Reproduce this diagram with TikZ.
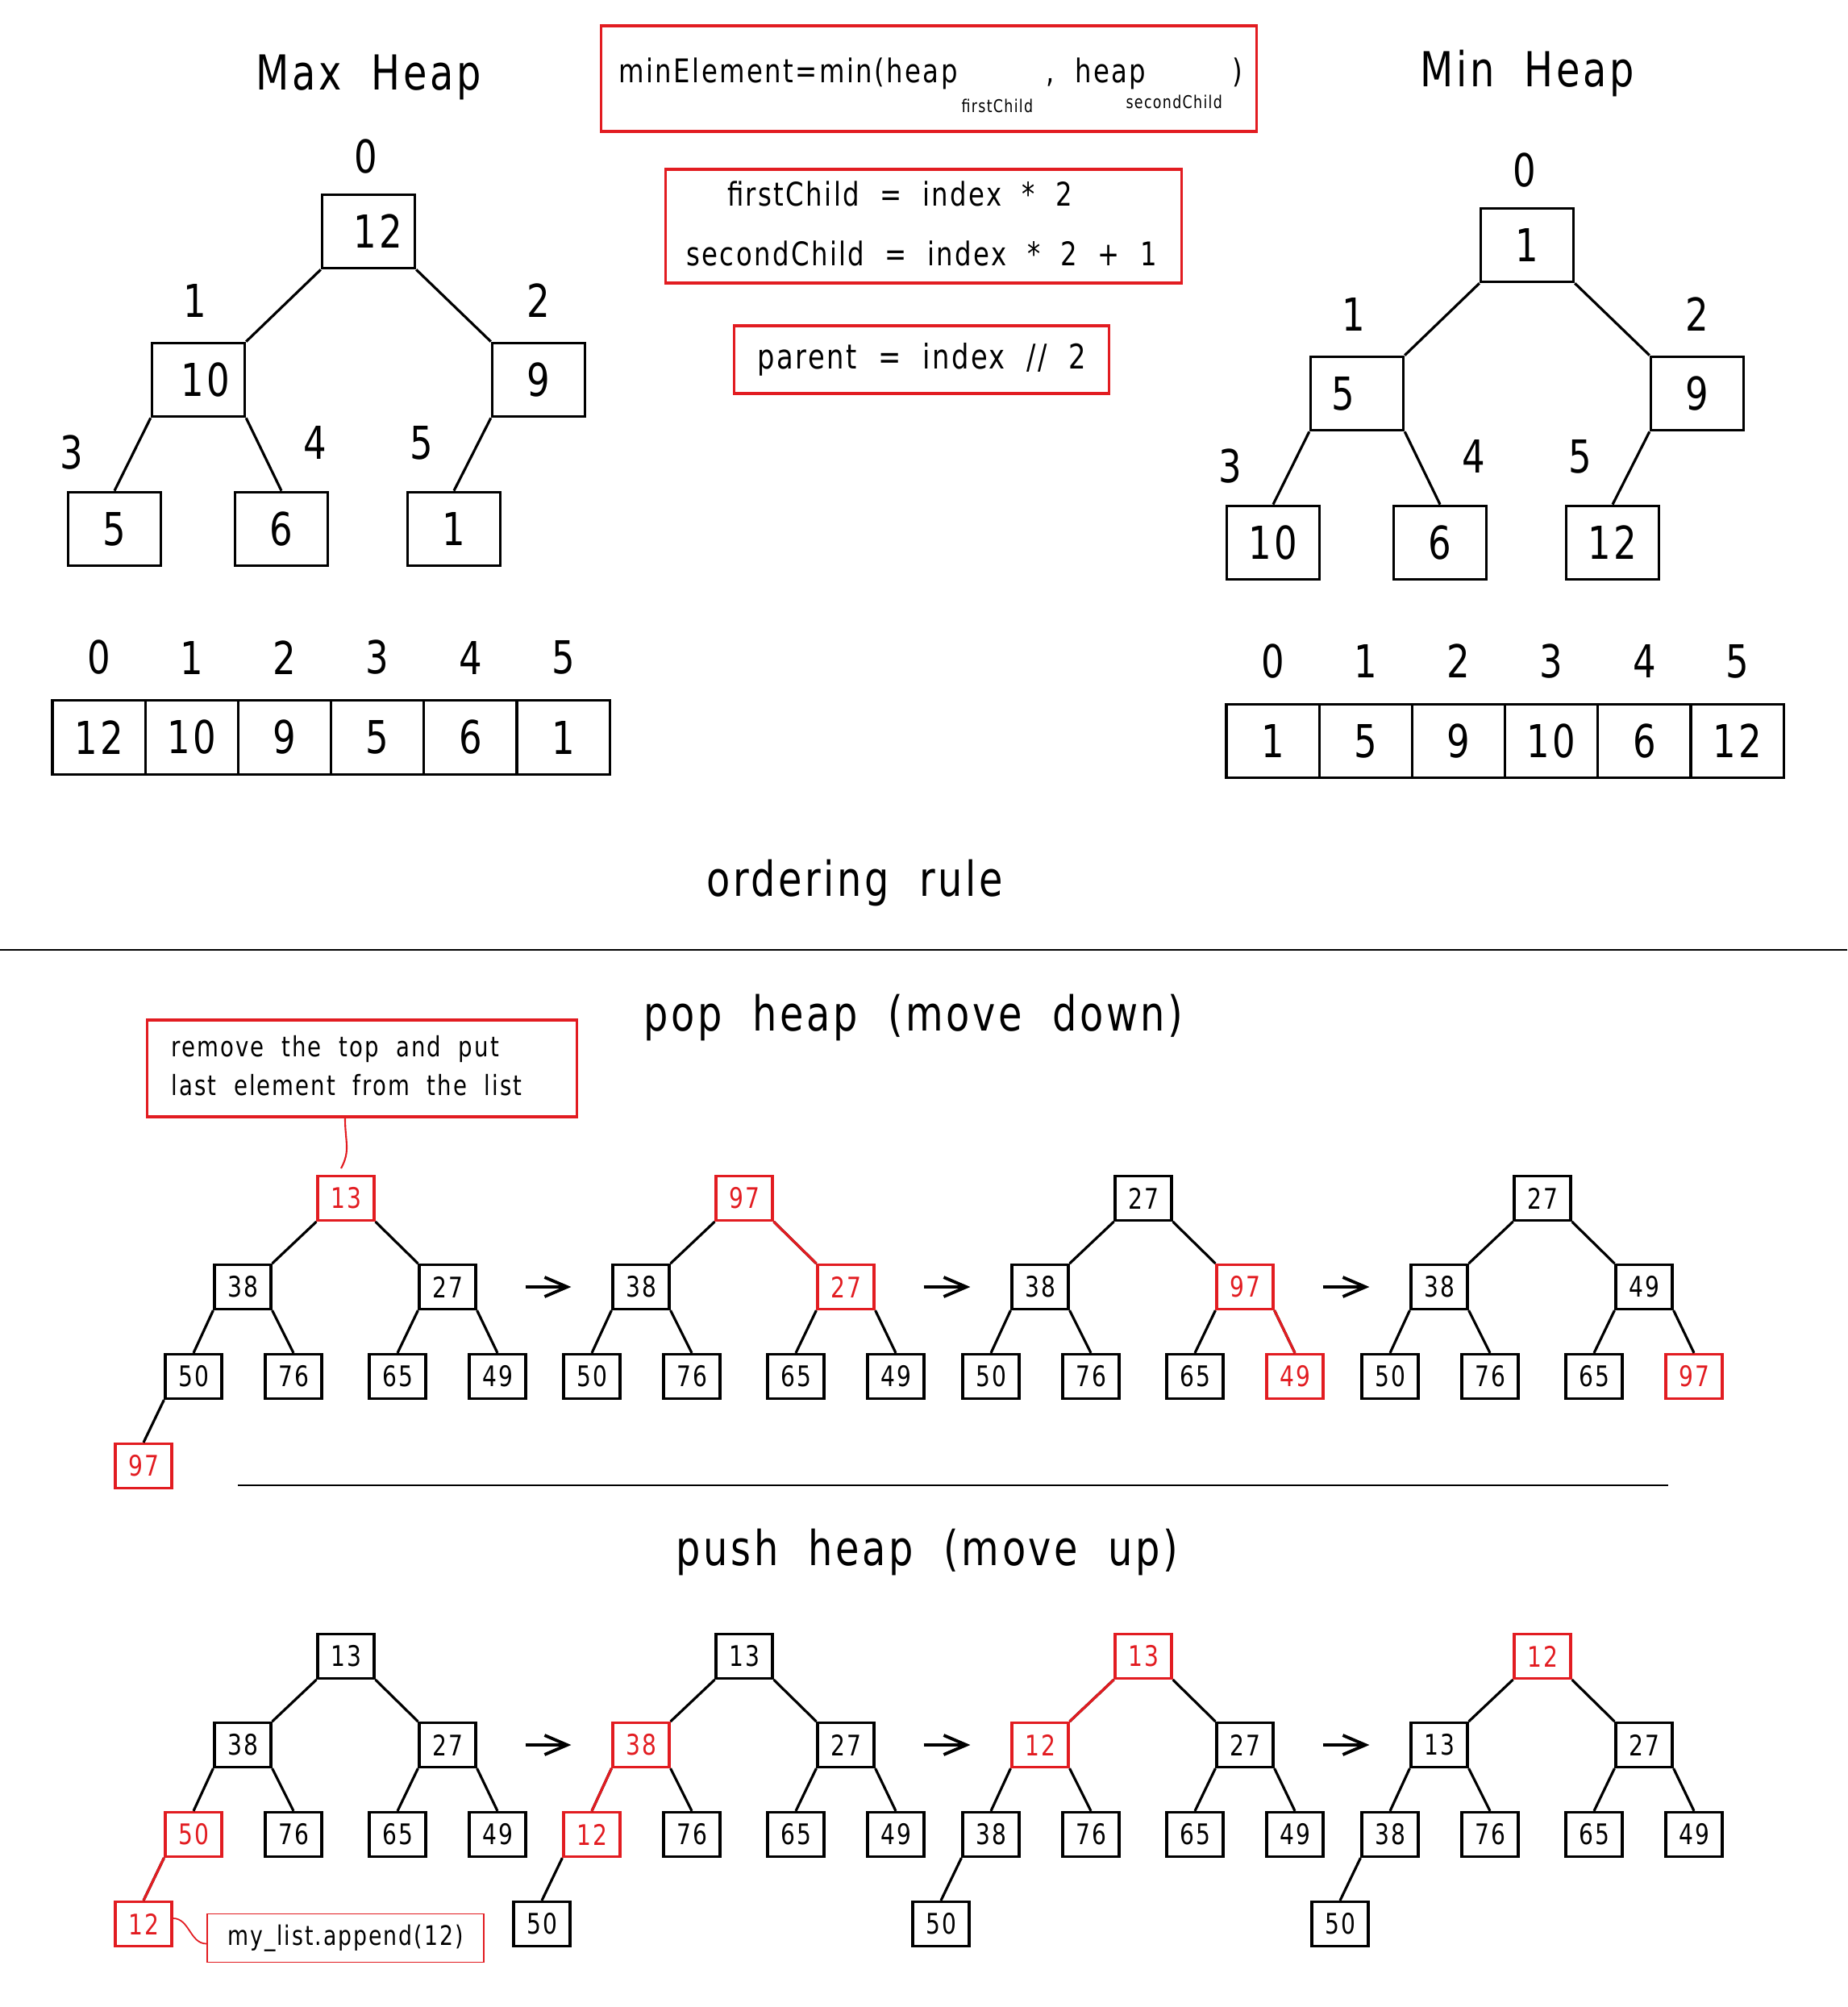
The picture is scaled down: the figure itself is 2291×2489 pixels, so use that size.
\documentclass[tikz,border=0pt]{standalone}
\usepackage{fontspec}
\setmainfont[FakeStretch=0.8,LetterSpace=6,WordSpace=2]{DejaVu Sans}
\usetikzlibrary{arrows.meta}
\definecolor{hred}{RGB}{226,28,33}
\begin{document}
\begin{tikzpicture}
[x=0.01cm,y=-0.01cm,line width=0.9pt,
cell/.style={rectangle,draw,minimum width=1.152cm,minimum height=0.915cm,inner sep=0pt,font=\fontsize{16}{16}\selectfont},
idx/.style={inner sep=0pt,font=\fontsize{16}{16}\selectfont},
slot/.style={rectangle,draw,minimum width=0.7cm,minimum height=0.55cm,inner sep=0pt,font=\fontsize{10}{10}\selectfont},
hot/.style={slot,draw=hred,text=hred},
redframe/.style={rectangle,draw=hred,inner sep=0pt},
formula/.style={inner sep=0pt,font=\fontsize{11.5}{11.5}\selectfont},
subtext/.style={inner sep=0pt,font=\fontsize{6.2}{6.2}\selectfont},
heading/.style={inner sep=0pt,font=\fontsize{17}{17}\selectfont},
go/.style={-{Straight Barb[length=0.28cm,width=0.24cm]},line width=1.1pt}]
\useasboundingbox (0,0) rectangle (2291,2489);

% max heap and min heap
\node[heading] (maxtitle) at (457,96) {Max Heap};
\node[heading] (mintitle) at (1894,91) {Min Heap};
\foreach \t/\x/\y/\va/\vb/\vc/\vd/\ve/\vf in {mx/457/287/{\hspace{0.24cm}12}/{\hspace{0.18cm}10}/9/5/6/1, mn/1894/304/1/{\hspace{-0.34cm}5}/9/10/6/12}
{
	\node[cell] (\t0) at (\x,\y) {\va};
	\node[cell] (\t1) at (\x-211,\y+184) {\vb};
	\node[cell] (\t2) at (\x+211,\y+184) {\vc};
	\node[cell] (\t3) at (\x-315,\y+369) {\vd};
	\node[cell] (\t4) at (\x-108,\y+369) {\ve};
	\node[cell] (\t5) at (\x+106,\y+369) {\vf};
	\draw (\t0.south west) -- (\t1.north east);
	\draw (\t0.south east) -- (\t2.north west);
	\draw (\t1.south west) -- (\t3.north);
	\draw (\t1.south east) -- (\t4.north);
	\draw (\t2.south west) -- (\t5.north);
	\foreach \i/\dx/\dy in {0/-3/-93,1/-215/86,2/211/86,3/-368/274,4/-66/262,5/66/262}
		\node[idx] (\t-i\i) at (\x+\dx,\y+\dy) {\i};
}
\foreach \t/\x/\y/\row in {mx/122.6/914.5/{12,10,9,5,6,1}, mn/1578.6/919/{1,5,9,10,6,12}}
	\foreach \v [count=\i from 0] in \row
	{
		\node[cell] (\t-a\i) at (\x+115.2*\i,\y) {\v};
		\node[idx] (\t-n\i) at (\x+115.2*\i,\y-99) {\i};
	}

% index formulas
\node[redframe,minimum width=8.12cm,minimum height=1.31cm] (minbox) at (1152,97.5) {};
\node[formula,anchor=base west] (minL) at (766,103) {minElement=min(heap};
\node[formula,anchor=base west] (minM) at (1296,103) {, heap};
\node[formula,anchor=base west] (minR) at (1527,103) {)};
\node[subtext,anchor=base west] (subA) at (1191,140) {firstChild};
\node[subtext,anchor=base west] (subB) at (1395,135) {secondChild};
\node[redframe,minimum width=6.39cm,minimum height=1.41cm] (kidbox) at (1145.5,280.5) {};
\node[formula] (kidA) at (1116,240) {firstChild = index * 2};
\node[formula] (kidB) at (1143,314) {secondChild = index * 2 + 1};
\node[redframe,formula,font=\fontsize{12}{12}\selectfont,minimum width=4.64cm,minimum height=0.84cm] (parbox) at (1143,446) {parent = index // 2};

\node[heading] (order) at (1060,1095) {ordering rule};
\draw[line width=0.7pt] (0,1178) -- (2291,1178);

% pop and push
\node[heading] (poptitle) at (1133,1262) {pop heap (move down)};
\node[redframe,minimum width=5.32cm,minimum height=1.2cm] (note) at (449,1325) {};
\node[anchor=west,inner sep=0pt,align=left,font=\fontsize{9.8}{13.7}\selectfont] (notetext) at (211,1322) {remove the top and put\\last element from the list};
\draw[line width=0.7pt] (295,1842) -- (2069,1842);
\node[heading] (pushtitle) at (1150,1925) {push heap (move up)};

\foreach \t/\x/\y/\row in {
	p1/429/1486/{hot/13,slot/38,slot/27,slot/50,slot/76,slot/65,slot/49,hot/97},
	p2/923/1486/{hot/97,slot/38,hot/27,slot/50,slot/76,slot/65,slot/49},
	p3/1418/1486/{slot/27,slot/38,hot/97,slot/50,slot/76,slot/65,hot/49},
	p4/1913/1486/{slot/27,slot/38,slot/49,slot/50,slot/76,slot/65,hot/97},
	u1/429/2054/{slot/13,slot/38,slot/27,hot/50,slot/76,slot/65,slot/49,hot/12},
	u2/923/2054/{slot/13,hot/38,slot/27,hot/12,slot/76,slot/65,slot/49,slot/50},
	u3/1418/2054/{hot/13,hot/12,slot/27,slot/38,slot/76,slot/65,slot/49,slot/50},
	u4/1913/2054/{hot/12,slot/13,slot/27,slot/38,slot/76,slot/65,slot/49,slot/50}}
	\foreach \s/\v [count=\i from 0] in \row
	{
		\pgfmathsetmacro{\dx}{{0,-128,126,-189,-65,64,188,-251}[\i]}
		\pgfmathsetmacro{\dy}{{0,110,110,221,221,221,221,332}[\i]}
		\node[\s] (\t-\i) at (\x+\dx,\y+\dy) {\v};
	}
\foreach \t in {p1,p2,p3,p4,u1,u2,u3,u4}
	\foreach \a/\pa/\b/\pb in {0/south west/1/north east,0/south east/2/north west,1/south west/3/north,1/south east/4/north,2/south west/5/north,2/south east/6/north}
		\draw (\t-\a.\pa) -- (\t-\b.\pb);
\foreach \t in {p1,u1,u2,u3,u4}
	\draw (\t-3.south west) -- (\t-7.north);
% moved elements
\draw[hred] (p2-0.south east) -- (p2-2.north west);
\draw[hred] (p3-2.south east) -- (p3-6.north);
\draw[hred] (u1-3.south west) -- (u1-7.north);
\draw[hred] (u2-1.south west) -- (u2-3.north);
\draw[hred] (u3-0.south west) -- (u3-1.north east);
\foreach \a/\b in {p1/p2,p2/p3,p3/p4,u1/u2,u2/u3,u3/u4}
	\draw[go] ([xshift=0.6cm]\a-2.east) -- ([xshift=-0.5cm]\b-1.west);

\draw[hred,line width=0.6pt] ([xshift=-0.21cm]note.south) .. controls +(0,30) and +(12,-22) .. ([xshift=-0.06cm,yshift=0.08cm]p1-0.north);
\node[redframe,line width=0.5pt,minimum width=3.43cm,minimum height=0.6cm,font=\fontsize{9.5}{9.5}\selectfont] (app) at (428.5,2403.5) {my\_list.append(12)};
\draw[hred,line width=0.5pt] ([yshift=0.07cm]u1-7.east) to[out=0,in=180] ([yshift=-0.07cm]app.west);
\end{tikzpicture}
\end{document}
